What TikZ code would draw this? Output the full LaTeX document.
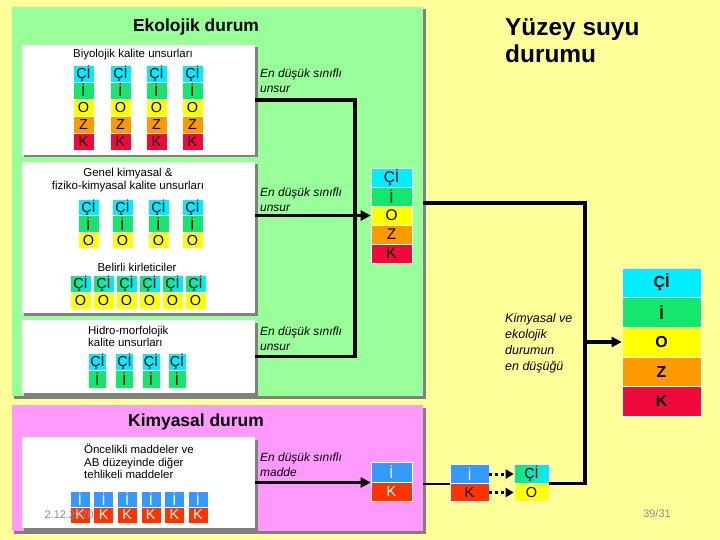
\documentclass[tikz,border=0pt]{standalone}
\usepackage{fontspec}
\setmainfont{Liberation Sans}
\usepackage{xcolor}
\usepackage{tikz}
\usetikzlibrary{positioning,calc,arrows.meta,shadows}
\definecolor{bgyellow}{RGB}{255,255,153}
\definecolor{ecogreen}{RGB}{153,255,153}
\definecolor{chempink}{RGB}{255,153,255}
\definecolor{shadowgray}{RGB}{128,128,128}
\definecolor{footgray}{RGB}{140,140,140}
\definecolor{cellcyan}{RGB}{0,238,255}
\definecolor{cellgreen}{RGB}{20,230,110}
\definecolor{cellyellow}{RGB}{255,255,0}
\definecolor{cellorange}{RGB}{255,153,0}
\definecolor{cellred}{RGB}{240,10,60}
\definecolor{cellblue}{RGB}{51,153,255}
\definecolor{cellvermil}{RGB}{255,51,0}

\begin{document}
\begin{tikzpicture}[x=1bp,y=-1bp,
    panel/.style={draw=none,inner sep=0pt,drop shadow={shadow xshift=2.5bp,shadow yshift=-2.5bp,fill=shadowgray,opacity=1}},
    whitebox/.style={panel,fill=white,minimum width=233bp},
    title/.style={font=\fontsize{17.5}{20}\selectfont\bfseries},
    small/.style={font=\fontsize{11.5}{12.5}\selectfont},
    note/.style={font=\fontsize{12}{15}\selectfont\itshape,align=left,anchor=north west,inner sep=0pt},
    cell/.style={draw=white,line width=0.6bp,inner sep=0pt,minimum width=21bp,minimum height=17bp,font=\fontsize{14.5}{14.5}\selectfont},
    link/.style={line width=3.5bp},
    arr/.style={link,-{Triangle[length=10bp,width=10bp]}},
    dotarr/.style={line width=3bp,dash pattern=on 3bp off 3bp,-{Triangle[length=8bp,width=9bp]}},
    footer/.style={text=footgray,font=\fontsize{11}{11}\selectfont}]
    % background and the two state panels
    \fill[bgyellow] (0,0) rectangle (720,540);
    \node[panel,fill=ecogreen,minimum width=411bp,minimum height=389bp] (ecopanel) at (217.5,201.5) {};
    \node[panel,fill=chempink,minimum width=411bp,minimum height=126bp] (chempanel) at (217.5,468) {};

    % quality element boxes
    \node[whitebox,minimum height=110bp] (bbox) at (138.5,100) {};
    \node[whitebox,minimum height=151bp] (gbox) at (138.5,237.5) {};
    \node[whitebox,minimum height=73bp] (hbox) at (138.5,356.5) {};
    \node[whitebox,minimum height=91bp] (cbox) at (138.5,482.5) {};

    % biological elements
    \foreach \x [count=\i] in {83.5,120.5,156.5,192.5}
        \foreach \lab/\col [count=\j] in {Çİ/cellcyan,İ/cellgreen,O/cellyellow,Z/cellorange,K/cellred}
            \node[cell,fill=\col] (bio-\i-\j) at (\x,56.5+17*\j) {\lab};

    % general chemical elements
    \foreach \x [count=\i] in {88.5,122.5,158.5,192.5}
        \foreach \lab/\col [count=\j] in {Çİ/cellcyan,İ/cellgreen,O/cellyellow}
            \node[cell,fill=\col,minimum height=16.5bp] (gen-\i-\j) at (\x,191+16.5*\j) {\lab};

    % specific pollutants
    \foreach \i in {1,...,6} {
        \node[cell,left color=cellgreen,right color=cellcyan] (bel-\i-1) at (57.5+23*\i,283.5) {Çİ};
        \node[cell,fill=cellyellow] (bel-\i-2) at (57.5+23*\i,300.5) {O};
    }

    % hydromorphological elements
    \foreach \x [count=\i] in {97.5,124.5,151,177} {
        \node[cell,fill=cellcyan,minimum width=18bp,minimum height=17.5bp] (hid-\i-1) at (\x,362) {Çİ};
        \node[cell,fill=cellgreen,minimum width=18bp,minimum height=17.5bp] (hid-\i-2) at (\x,379.5) {İ};
    }

    % priority substances
    \foreach \i in {1,...,6} {
        \node[cell,fill=cellblue,text=white,minimum width=20bp,minimum height=16bp] (pri-\i-1) at (56.4+23.6*\i,499) {İ};
        \node[cell,fill=cellvermil,text=white,minimum width=20bp,minimum height=16bp] (pri-\i-2) at (56.4+23.6*\i,515) {K};
    }

    % ecological result
    \foreach \lab/\col [count=\j] in {Çİ/cellcyan,İ/cellgreen,O/cellyellow,Z/cellorange,K/cellred}
        \node[cell,fill=\col,minimum width=41bp,minimum height=19bp,font=\fontsize{15.5}{15.5}\selectfont] (eco-\j) at (391.5,158.5+19*\j) {\lab};

    % chemical result
    \node[cell,fill=cellblue,text=white,minimum width=41bp,minimum height=19.5bp] (chr-1) at (391.5,472.5) {İ};
    \node[cell,fill=cellvermil,text=white,minimum width=41bp,minimum height=19.5bp] (chr-2) at (391.5,492) {K};
    \node[cell,fill=cellblue,text=white,minimum width=39bp,minimum height=18.5bp] (mid-1) at (469.5,474) {İ};
    \node[cell,fill=cellvermil,minimum width=39bp,minimum height=18.5bp] (mid-2) at (469.5,492.5) {K};
    \node[cell,left color=cellgreen,right color=cellcyan,minimum width=35bp,minimum height=18.5bp] (out-1) at (531.5,474) {Çİ};
    \node[cell,fill=cellyellow,minimum width=35bp,minimum height=18.5bp] (out-2) at (531.5,492.5) {O};

    % surface water status
    \foreach \lab/\col [count=\j] in {Çİ/cellcyan,İ/cellgreen,O/cellyellow,Z/cellorange,K/cellred}
        \node[cell,fill=\col,minimum width=79bp,minimum height=29.6bp,font=\fontsize{16}{16}\selectfont\bfseries] (fin-\j) at (661.5,253.2+29.6*\j) {\lab};

    % connectors
    \coordinate (ecojoin) at (355,356.5);
    \coordinate (merge) at (585,203);
    \draw[link] (bbox.east) -| (ecojoin) -- (hbox.east);
    \draw[arr] (gbox.east |- eco-3.west) -- (eco-3.west);
    \draw[arr] (cbox.east) -- (cbox.east -| chr-1.west);
    \draw[line width=2bp] (chempanel.east |- mid-1.south west) -- (mid-1.south west);
    \draw[dotarr] (mid-1.east) -- (out-1.west);
    \draw[dotarr] (mid-2.east) -- (out-2.west);
    \draw[link] (out-1.south east) -| (merge) -- (merge -| ecopanel.east);
    \draw[arr] (merge |- fin-3.west) -- (fin-3.west);

    % texts
    \node[title] (ecotitle) at (196,27) {Ekolojik durum};
    \node[title] (chemtitle) at (196,422) {Kimyasal durum};
    \node[font=\fontsize{24.5}{28}\selectfont\bfseries,align=left,anchor=north west,inner sep=0pt] (maintitle) at (505,18) {Yüzey suyu\\durumu};
    \node[small] (biotitle) at (133,55) {Biyolojik kalite unsurları};
    \node[small,align=center] (gentitle) at (128,180) {Genel kimyasal \&\\fiziko-kimyasal kalite unsurları};
    \node[small] (beltitle) at (137,267) {Belirli kirleticiler};
    \node[small,align=left,anchor=north west,inner sep=0pt] (hidtitle) at (88,326) {Hidro-morfolojik\\kalite unsurları};
    \node[small,align=left,anchor=north west,inner sep=0pt] (prititle) at (84,444) {Öncelikli maddeler ve\\AB düzeyinde diğer\\tehlikeli maddeler};
    \node[note] (bionote) at (260,69) {En düşük sınıflı\\unsur};
    \node[note] (gennote) at (260,188) {En düşük sınıflı\\unsur};
    \node[note] (hidnote) at (260,327) {En düşük sınıflı\\unsur};
    \node[note] (chemnote) at (260,453) {En düşük sınıflı\\madde};
    \node[note,font=\fontsize{12.5}{16}\selectfont\itshape] (mergenote) at (505,313) {Kimyasal ve\\ekolojik\\durumun\\en düşüğü};
    \node[footer] (datetext) at (69,515) {2.12.2020};
    \node[footer] (pagetext) at (657,514) {39/31};
\end{tikzpicture}
\end{document}
